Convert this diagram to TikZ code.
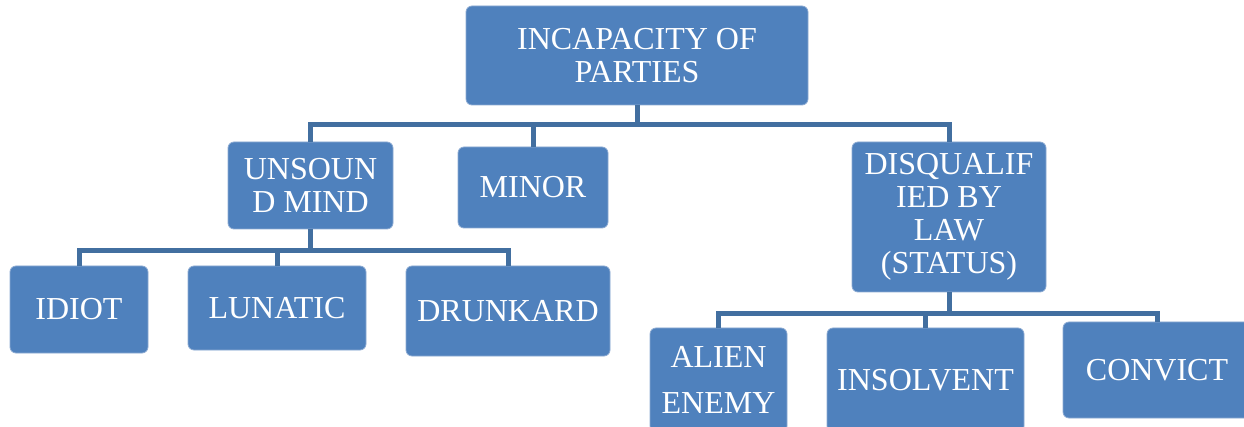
\documentclass[tikz,border=0pt]{standalone}
\usepackage{fontspec}
\setmainfont{Liberation Serif}
\definecolor{boxblue}{RGB}{79,129,189}
\definecolor{boxedge}{RGB}{140,170,210}
\definecolor{connblue}{RGB}{66,111,160}
\tikzset{
  box/.style={draw=boxedge, line width=0.8pt, fill=boxblue, rounded corners=6pt,
    text=white, align=center, inner sep=0pt,
    font=\fontsize{32}{33}\selectfont},
  conn/.style={draw=connblue, line width=5pt}
}
\begin{document}
\begin{tikzpicture}[x=1pt,y=-1pt]
\useasboundingbox (0,0) rectangle (1244,427);
\node[box, minimum width=342pt, minimum height=99pt] (top) at (637,55.5) {INCAPACITY OF\\PARTIES};
\node[box, minimum width=165pt, minimum height=87pt] (uns) at (310.5,185.5) {UNSOUN\\D MIND};
\node[box, minimum width=150pt, minimum height=81pt] (minor) at (533,187.5) {MINOR};
\node[box, minimum width=194pt, minimum height=150pt] (disq) at (949,217) {\raisebox{0pt}{}DISQUALIF\\IED BY\\LAW\\(STATUS)};
\node[box, minimum width=138pt, minimum height=87pt] (idiot) at (79,309.5) {IDIOT};
\node[box, minimum width=178pt, minimum height=84pt] (lun) at (277,308) {LUNATIC};
\node[box, minimum width=204pt, minimum height=90pt] (drunk) at (508,311) {DRUNKARD};
\node[box, minimum width=137pt, minimum height=104pt] (alien) at (718.5,380) {ALIEN\\[13pt]ENEMY};
\node[box, minimum width=197pt, minimum height=104pt] (insol) at (925.5,380) {INSOLVENT};
\node[box, minimum width=188pt, minimum height=96pt] (conv) at (1157,370) {CONVICT};
\coordinate (j1) at (637,125);
\coordinate (j2) at (310,251);
\coordinate (j3) at (949,314);
\draw[conn] (top.south) |- (uns.north |- j1) -- (uns.north);
\draw[conn] (top.south) |- (minor.north |- j1) -- (minor.north);
\draw[conn] (top.south) |- (disq.north |- j1) -- (disq.north);
\draw[conn] (uns.south) |- (idiot.north |- j2) -- (idiot.north);
\draw[conn] (uns.south) |- (lun.north |- j2) -- (lun.north);
\draw[conn] (uns.south) |- (drunk.north |- j2) -- (drunk.north);
\draw[conn] (disq.south) |- (alien.north |- j3) -- (alien.north);
\draw[conn] (disq.south) |- (insol.north |- j3) -- (insol.north);
\draw[conn] (disq.south) |- (conv.north |- j3) -- (conv.north);
\end{tikzpicture}
\end{document}
